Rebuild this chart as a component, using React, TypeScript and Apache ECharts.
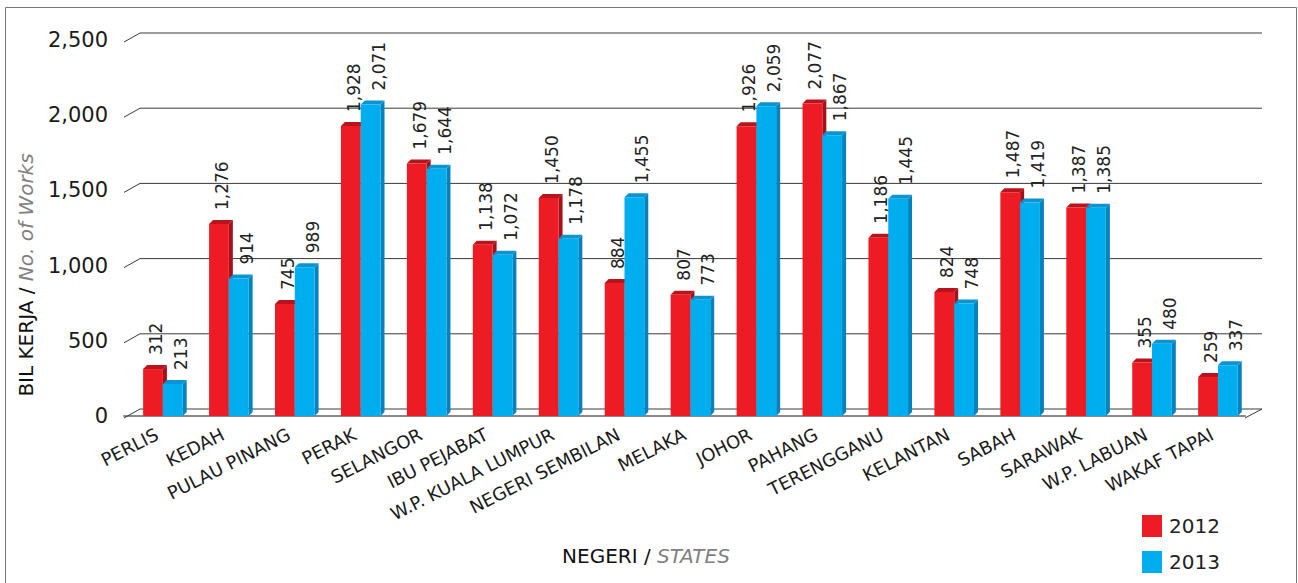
import React, { useEffect, useRef } from "react";
import * as echarts from "echarts";

const categories = [
  "PERLIS", "KEDAH", "PULAU PINANG", "PERAK", "SELANGOR", "IBU PEJABAT",
  "W.P. KUALA LUMPUR", "NEGERI SEMBILAN", "MELAKA", "JOHOR", "PAHANG",
  "TERENGGANU", "KELANTAN", "SABAH", "SARAWAK", "W.P. LABUAN", "WAKAF TAPAI",
];
const values2012 = [312, 1276, 745, 1928, 1679, 1138, 1450, 884, 807, 1926, 2077, 1186, 824, 1487, 1387, 355, 259];
const values2013 = [213, 914, 989, 2071, 1644, 1072, 1178, 1455, 773, 2059, 1867, 1445, 748, 1419, 1385, 480, 337];
const yTicks = [0, 500, 1000, 1500, 2000, 2500];

const FONT = "DejaVu Sans";
const RED = "#ED1C24";
const RED_TOP = "#B8141B";
const RED_SIDE = "#A5111A";
const BLUE = "#00AEEF";
const BLUE_TOP = "#0A95D0";
const BLUE_SIDE = "#0682BE";

const fmt = (v: number) => v.toLocaleString("en-US");

function barRenderer(side: number, front: string, top: string, sideC: string, labelDx: number) {
  return (params: any, api: any) => {
    const idx = api.value(0);
    const v = api.value(1);
    const base = api.coord([idx, 0]);
    const tp = api.coord([idx, v]);
    const band = api.size([1, 0])[0];
    const w = band * 0.3;
    const c = base[0] + band * 0.09;
    const x0 = side < 0 ? c - w : c;
    const yb = base[1];
    const yt = tp[1];
    const d = 4;
    return {
      type: "group",
      children: [
        {
          type: "polygon",
          shape: { points: [[x0 + w, yt], [x0 + w + d, yt - d], [x0 + w + d, yb - d], [x0 + w, yb]] },
          style: { fill: sideC },
        },
        {
          type: "polygon",
          shape: { points: [[x0, yt], [x0 + d, yt - d], [x0 + w + d, yt - d], [x0 + w, yt]] },
          style: { fill: top },
        },
        {
          type: "rect",
          shape: { x: x0, y: yt, width: w, height: yb - yt },
          style: { fill: front },
        },
        {
          type: "text",
          x: x0 + w / 2 + labelDx,
          y: yt - 14,
          rotation: Math.PI / 2,
          style: {
            text: fmt(v),
            fill: "#222",
            font: `17px "${FONT}"`,
            align: "left",
            verticalAlign: "middle",
          },
        },
      ],
    };
  };
}

function wallRenderer(params: any, api: any) {
  const v = api.value(1);
  const cs = params.coordSys;
  const y = api.coord([0, v])[1];
  const xl = cs.x;
  const xr = cs.x + cs.width;
  const dx = 16;
  const yf = y + 2;
  const yk = y - 7;
  const children: any[] = [
    {
      type: "polyline",
      shape: { points: [[xl, yf], [xl + dx, yk], [xr + dx + 1, yk]] },
      style: { stroke: "#3a3a3a", lineWidth: 1, fill: null },
    },
  ];
  if (v === 0) {
    children.push({
      type: "line",
      shape: { x1: xr, y1: yf, x2: xr + dx + 1, y2: yk },
      style: { stroke: "#3a3a3a", lineWidth: 1 },
    });
  }
  return { type: "group", children };
}

export default function App() {
  const ref = useRef<HTMLDivElement>(null);
  useEffect(() => {
    if (!ref.current) return;
    const chart = echarts.init(ref.current, null, { renderer: "svg" });
    chart.setOption({
      animation: false,
      backgroundColor: "#fff",
      textStyle: { fontFamily: FONT },
      grid: { left: 124, right: 53, top: 40, bottom: 167 },
      legend: {
        orient: "vertical",
        left: 1137,
        top: 510,
        itemWidth: 20,
        itemHeight: 22,
        itemGap: 14,
        icon: "rect",
        data: ["2012", "2013"],
        textStyle: { fontSize: 20, color: "#222", fontFamily: FONT, padding: [0, 0, 0, 2] },
      },
      xAxis: {
        type: "category",
        data: categories,
        offset: 1,
        axisLine: { show: true, lineStyle: { color: "#8a8a8a", width: 2 } },
        axisTick: { show: false },
        axisLabel: {
          interval: 0,
          rotate: 27,
          margin: 16,
          fontSize: 18,
          color: "#1a1a1a",
          fontFamily: FONT,
        },
      },
      yAxis: {
        type: "value",
        min: 0,
        max: 2500,
        interval: 500,
        axisLine: { show: false },
        axisTick: { show: false },
        splitLine: { show: false },
        axisLabel: {
          margin: 16,
          fontSize: 21,
          color: "#1a1a1a",
          fontFamily: FONT,
          formatter: (v: number) => fmt(v),
        },
      },
      graphic: [
        {
          type: "rect",
          shape: { x: 5.5, y: 7.5, width: 1291, height: 600 },
          style: { fill: null, stroke: "#777", lineWidth: 1 },
          silent: true,
        },
        {
          type: "text",
          x: 26,
          y: 275,
          rotation: Math.PI / 2,
          style: {
            text: "{a|BIL KERJA / }{b|No. of Works}",
            align: "center",
            verticalAlign: "middle",
            rich: {
              a: { fontSize: 20, fill: "#111", fontFamily: FONT },
              b: { fontSize: 20, fill: "#808080", fontStyle: "italic", fontFamily: FONT },
            },
          },
        },
        {
          type: "text",
          x: 646,
          y: 556,
          style: {
            text: "{a|NEGERI / }{b|STATES}",
            align: "center",
            verticalAlign: "middle",
            rich: {
              a: { fontSize: 20, fill: "#111", fontFamily: FONT },
              b: { fontSize: 20, fill: "#808080", fontStyle: "italic", fontFamily: FONT },
            },
          },
        },
      ],
      series: [
        {
          type: "custom",
          name: "wall",
          silent: true,
          z: 1,
          renderItem: wallRenderer,
          data: yTicks.map((t) => [0, t]),
        },
        {
          type: "custom",
          name: "2012",
          z: 2,
          itemStyle: { color: RED },
          renderItem: barRenderer(-1, RED, RED_TOP, RED_SIDE, 3),
          data: values2012.map((v, i) => [i, v]),
        },
        {
          type: "custom",
          name: "2013",
          z: 3,
          itemStyle: { color: BLUE },
          renderItem: barRenderer(1, BLUE, BLUE_TOP, BLUE_SIDE, 8),
          data: values2013.map((v, i) => [i, v]),
        },
      ],
    });
    return () => chart.dispose();
  }, []);
  return (
    <div
      ref={ref}
      style={{ position: "fixed", left: 0, top: 0, width: 1298, height: 583 }}
    />
  );
}
